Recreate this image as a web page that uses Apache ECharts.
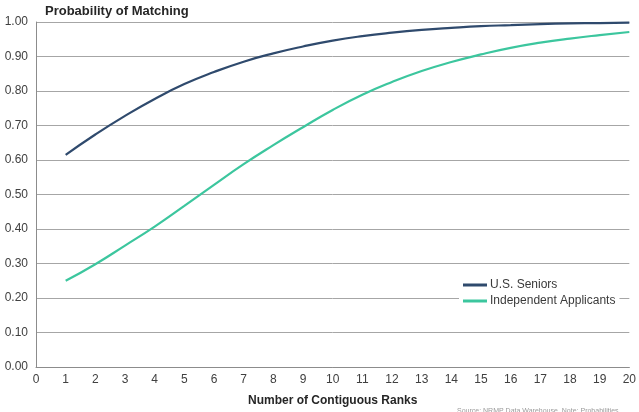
<!DOCTYPE html>
<html>
<head>
<meta charset="utf-8">
<script src="https://cdn.jsdelivr.net/npm/echarts@6/dist/echarts.min.js"></script>
<style>
  html, body { margin: 0; padding: 0; background: #fff; }
  #chart { width: 639px; height: 412px; }
</style>
</head>
<body>
<div id="chart"></div>
<script>
// Number of contiguous ranks on the rank order list
const ranks = [1, 2, 3, 4, 5, 6, 7, 8, 9, 10, 11, 12, 13, 14, 15, 16, 17, 18, 19, 20];
// Probability of matching by applicant type
const usSeniors = [0.615, 0.674, 0.728, 0.777, 0.820, 0.855, 0.885, 0.909, 0.929, 0.946,
                   0.959, 0.969, 0.977, 0.983, 0.988, 0.991, 0.994, 0.996, 0.997, 0.998];
const independentApplicants = [0.250, 0.298, 0.352, 0.407, 0.467, 0.528, 0.588, 0.643, 0.695, 0.745,
                               0.789, 0.826, 0.858, 0.884, 0.906, 0.925, 0.940, 0.952, 0.962, 0.971];
const seriesNames = ['U.S. Seniors', 'Independent Applicants'];

const font = 'Liberation Sans, Arial, sans-serif';
const chart = echarts.init(document.getElementById('chart'), null, { renderer: 'canvas' });

chart.setOption({
  backgroundColor: '#ffffff',
  animation: false,
  title: [{
    text: 'Probability of Matching',
    left: 40, top: 0,
    textStyle: { fontFamily: font, fontSize: 13, fontWeight: 'bold', color: '#262626' }
  }, {
    text: 'Source: NRMP Data Warehouse. Note: Probabilities',
    left: 452, top: 403,
    textStyle: { fontFamily: font, fontSize: 7, fontWeight: 'normal', color: '#9a9a9a' }
  }],
  grid: { left: 36, right: 6, top: 22, bottom: 44, containLabel: false },
  legend: {
    orient: 'vertical',
    left: 459, top: 277,
    itemWidth: 24, itemHeight: 3, itemGap: 4,
    backgroundColor: '#ffffff',
    padding: [2, 4, 2, 4],
    icon: 'rect',
    data: seriesNames,
    textStyle: { fontFamily: font, fontSize: 12, color: '#3a3a3a', padding: [0, 0, 0, -2] }
  },
  xAxis: {
    type: 'value',
    min: 0, max: 20, interval: 1,
    name: 'Number of Contiguous Ranks',
    nameLocation: 'middle',
    nameGap: 28,
    nameTextStyle: { fontFamily: font, fontSize: 12, fontWeight: 'bold', color: '#262626' },
    axisLine: { show: true, lineStyle: { color: '#8c8c8c', width: 1 } },
    axisTick: { show: false },
    splitLine: { show: false },
    axisLabel: { fontFamily: font, fontSize: 12, color: '#404040', margin: 7 }
  },
  yAxis: {
    type: 'value',
    min: 0, max: 1, interval: 0.1,
    axisLine: { show: true, lineStyle: { color: '#8c8c8c', width: 1 } },
    axisTick: { show: false },
    splitLine: { show: true, lineStyle: { color: '#a6a6a6', width: 1 } },
    axisLabel: {
      fontFamily: font, fontSize: 12, color: '#404040', margin: 8,
      formatter: v => v.toFixed(2)
    }
  },
  series: [{
    name: seriesNames[0],
    type: 'line',
    smooth: true,
    symbol: 'none',
    data: ranks.map((r, i) => [r, usSeniors[i]]),
    lineStyle: { color: '#2f4a6d', width: 2.2 },
    itemStyle: { color: '#2f4a6d' }
  }, {
    name: seriesNames[1],
    type: 'line',
    smooth: true,
    symbol: 'none',
    data: ranks.map((r, i) => [r, independentApplicants[i]]),
    lineStyle: { color: '#3cc69e', width: 2.2 },
    itemStyle: { color: '#3cc69e' }
  }]
});
</script>
</body>
</html>
